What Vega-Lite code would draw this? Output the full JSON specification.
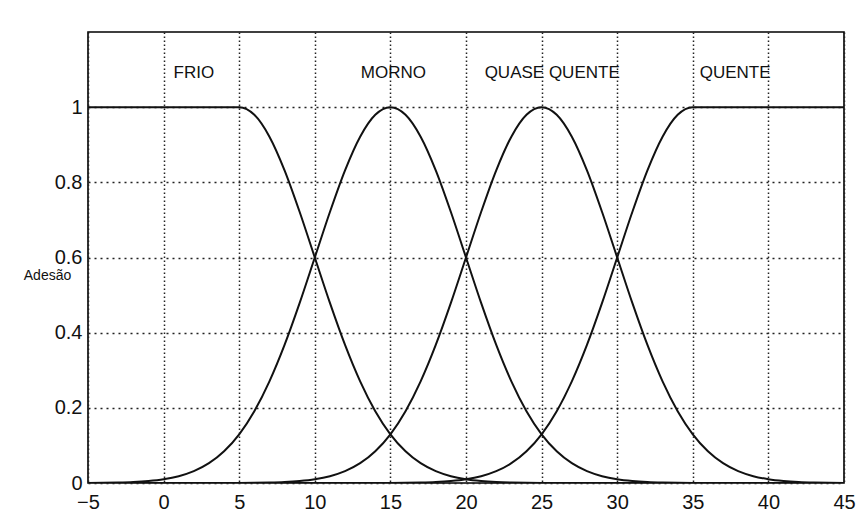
{
  "$schema": "https://vega.github.io/schema/vega-lite/v6.json",
  "width": 756,
  "height": 451,
  "autosize": {"type": "none"},
  "padding": {"left": 88, "top": 32, "right": 19, "bottom": 32},
  "background": "white",
  "config": {
    "view": {"stroke": "#000", "strokeWidth": 1.6},
    "font": "Liberation Sans",
    "axis": {
      "domain": false,
      "ticks": false,
      "labelFont": "Liberation Sans",
      "labelFontSize": 20,
      "labelColor": "#111",
      "labelFlush": false,
      "labelOverlap": false,
      "gridColor": "#222",
      "gridOpacity": 1,
      "gridWidth": 1.5
    }
  },
  "datasets": {
    "curves": [
      {"s": "FRIO", "x": -5, "y": 1}, {"s": "FRIO", "x": 0, "y": 1}, {"s": "FRIO", "x": 5, "y": 1},
      {"s": "FRIO", "x": 6, "y": 0.9798}, {"s": "FRIO", "x": 7, "y": 0.9215}, {"s": "FRIO", "x": 8, "y": 0.832},
      {"s": "FRIO", "x": 9, "y": 0.7211}, {"s": "FRIO", "x": 10, "y": 0.6}, {"s": "FRIO", "x": 11, "y": 0.4792},
      {"s": "FRIO", "x": 12, "y": 0.3674}, {"s": "FRIO", "x": 13, "y": 0.2705}, {"s": "FRIO", "x": 14, "y": 0.1911},
      {"s": "FRIO", "x": 15, "y": 0.1296}, {"s": "FRIO", "x": 16, "y": 0.0844}, {"s": "FRIO", "x": 17, "y": 0.0527},
      {"s": "FRIO", "x": 18, "y": 0.0316}, {"s": "FRIO", "x": 19, "y": 0.0182}, {"s": "FRIO", "x": 20, "y": 0.0101},
      {"s": "FRIO", "x": 21, "y": 0.0054}, {"s": "FRIO", "x": 22, "y": 0.0027}, {"s": "FRIO", "x": 23, "y": 0.0013},
      {"s": "FRIO", "x": 24, "y": 0.0006}, {"s": "FRIO", "x": 25, "y": 0.0003}, {"s": "FRIO", "x": 30, "y": 0},
      {"s": "FRIO", "x": 35, "y": 0}, {"s": "FRIO", "x": 40, "y": 0}, {"s": "FRIO", "x": 45, "y": 0},

      {"s": "MORNO", "x": -5, "y": 0.0003}, {"s": "MORNO", "x": -4, "y": 0.0006}, {"s": "MORNO", "x": -3, "y": 0.0013},
      {"s": "MORNO", "x": -2, "y": 0.0027}, {"s": "MORNO", "x": -1, "y": 0.0054}, {"s": "MORNO", "x": 0, "y": 0.0101},
      {"s": "MORNO", "x": 1, "y": 0.0182}, {"s": "MORNO", "x": 2, "y": 0.0316}, {"s": "MORNO", "x": 3, "y": 0.0527},
      {"s": "MORNO", "x": 4, "y": 0.0844}, {"s": "MORNO", "x": 5, "y": 0.1296}, {"s": "MORNO", "x": 6, "y": 0.1911},
      {"s": "MORNO", "x": 7, "y": 0.2705}, {"s": "MORNO", "x": 8, "y": 0.3674}, {"s": "MORNO", "x": 9, "y": 0.4792},
      {"s": "MORNO", "x": 10, "y": 0.6}, {"s": "MORNO", "x": 11, "y": 0.7211}, {"s": "MORNO", "x": 12, "y": 0.832},
      {"s": "MORNO", "x": 13, "y": 0.9215}, {"s": "MORNO", "x": 14, "y": 0.9798}, {"s": "MORNO", "x": 15, "y": 1},
      {"s": "MORNO", "x": 16, "y": 0.9798}, {"s": "MORNO", "x": 17, "y": 0.9215}, {"s": "MORNO", "x": 18, "y": 0.832},
      {"s": "MORNO", "x": 19, "y": 0.7211}, {"s": "MORNO", "x": 20, "y": 0.6}, {"s": "MORNO", "x": 21, "y": 0.4792},
      {"s": "MORNO", "x": 22, "y": 0.3674}, {"s": "MORNO", "x": 23, "y": 0.2705}, {"s": "MORNO", "x": 24, "y": 0.1911},
      {"s": "MORNO", "x": 25, "y": 0.1296}, {"s": "MORNO", "x": 26, "y": 0.0844}, {"s": "MORNO", "x": 27, "y": 0.0527},
      {"s": "MORNO", "x": 28, "y": 0.0316}, {"s": "MORNO", "x": 29, "y": 0.0182}, {"s": "MORNO", "x": 30, "y": 0.0101},
      {"s": "MORNO", "x": 31, "y": 0.0054}, {"s": "MORNO", "x": 32, "y": 0.0027}, {"s": "MORNO", "x": 33, "y": 0.0013},
      {"s": "MORNO", "x": 34, "y": 0.0006}, {"s": "MORNO", "x": 35, "y": 0.0003}, {"s": "MORNO", "x": 40, "y": 0},
      {"s": "MORNO", "x": 45, "y": 0},

      {"s": "QQ", "x": -5, "y": 0}, {"s": "QQ", "x": 0, "y": 0},
      {"s": "QQ", "x": 5, "y": 0.0003}, {"s": "QQ", "x": 6, "y": 0.0006}, {"s": "QQ", "x": 7, "y": 0.0013},
      {"s": "QQ", "x": 8, "y": 0.0027}, {"s": "QQ", "x": 9, "y": 0.0054}, {"s": "QQ", "x": 10, "y": 0.0101},
      {"s": "QQ", "x": 11, "y": 0.0182}, {"s": "QQ", "x": 12, "y": 0.0316}, {"s": "QQ", "x": 13, "y": 0.0527},
      {"s": "QQ", "x": 14, "y": 0.0844}, {"s": "QQ", "x": 15, "y": 0.1296}, {"s": "QQ", "x": 16, "y": 0.1911},
      {"s": "QQ", "x": 17, "y": 0.2705}, {"s": "QQ", "x": 18, "y": 0.3674}, {"s": "QQ", "x": 19, "y": 0.4792},
      {"s": "QQ", "x": 20, "y": 0.6}, {"s": "QQ", "x": 21, "y": 0.7211}, {"s": "QQ", "x": 22, "y": 0.832},
      {"s": "QQ", "x": 23, "y": 0.9215}, {"s": "QQ", "x": 24, "y": 0.9798}, {"s": "QQ", "x": 25, "y": 1},
      {"s": "QQ", "x": 26, "y": 0.9798}, {"s": "QQ", "x": 27, "y": 0.9215}, {"s": "QQ", "x": 28, "y": 0.832},
      {"s": "QQ", "x": 29, "y": 0.7211}, {"s": "QQ", "x": 30, "y": 0.6}, {"s": "QQ", "x": 31, "y": 0.4792},
      {"s": "QQ", "x": 32, "y": 0.3674}, {"s": "QQ", "x": 33, "y": 0.2705}, {"s": "QQ", "x": 34, "y": 0.1911},
      {"s": "QQ", "x": 35, "y": 0.1296}, {"s": "QQ", "x": 36, "y": 0.0844}, {"s": "QQ", "x": 37, "y": 0.0527},
      {"s": "QQ", "x": 38, "y": 0.0316}, {"s": "QQ", "x": 39, "y": 0.0182}, {"s": "QQ", "x": 40, "y": 0.0101},
      {"s": "QQ", "x": 41, "y": 0.0054}, {"s": "QQ", "x": 42, "y": 0.0027}, {"s": "QQ", "x": 43, "y": 0.0013},
      {"s": "QQ", "x": 44, "y": 0.0006}, {"s": "QQ", "x": 45, "y": 0.0003},

      {"s": "QUENTE", "x": -5, "y": 0}, {"s": "QUENTE", "x": 0, "y": 0}, {"s": "QUENTE", "x": 5, "y": 0},
      {"s": "QUENTE", "x": 10, "y": 0}, {"s": "QUENTE", "x": 15, "y": 0.0003}, {"s": "QUENTE", "x": 16, "y": 0.0006},
      {"s": "QUENTE", "x": 17, "y": 0.0013}, {"s": "QUENTE", "x": 18, "y": 0.0027}, {"s": "QUENTE", "x": 19, "y": 0.0054},
      {"s": "QUENTE", "x": 20, "y": 0.0101}, {"s": "QUENTE", "x": 21, "y": 0.0182}, {"s": "QUENTE", "x": 22, "y": 0.0316},
      {"s": "QUENTE", "x": 23, "y": 0.0527}, {"s": "QUENTE", "x": 24, "y": 0.0844}, {"s": "QUENTE", "x": 25, "y": 0.1296},
      {"s": "QUENTE", "x": 26, "y": 0.1911}, {"s": "QUENTE", "x": 27, "y": 0.2705}, {"s": "QUENTE", "x": 28, "y": 0.3674},
      {"s": "QUENTE", "x": 29, "y": 0.4792}, {"s": "QUENTE", "x": 30, "y": 0.6}, {"s": "QUENTE", "x": 31, "y": 0.7211},
      {"s": "QUENTE", "x": 32, "y": 0.832}, {"s": "QUENTE", "x": 33, "y": 0.9215}, {"s": "QUENTE", "x": 34, "y": 0.9798},
      {"s": "QUENTE", "x": 35, "y": 1}, {"s": "QUENTE", "x": 40, "y": 1}, {"s": "QUENTE", "x": 45, "y": 1}
    ],
    "labels": [
      {"label": "FRIO", "x": 2, "y": 1.09},
      {"label": "MORNO", "x": 15.2, "y": 1.09},
      {"label": "QUASE QUENTE", "x": 25.7, "y": 1.09},
      {"label": "QUENTE", "x": 37.8, "y": 1.09}
    ]
  },
  "layer": [
    {
      "data": {"name": "curves"},
      "mark": {"type": "line", "color": "#111", "strokeWidth": 2, "interpolate": "monotone", "clip": true},
      "encoding": {
        "x": {
          "field": "x", "type": "quantitative",
          "scale": {"domain": [-5, 45], "nice": false, "zero": false},
          "axis": {
            "title": null,
            "values": [-5, 0, 5, 10, 15, 20, 25, 30, 35, 40, 45],
            "labelPadding": 9,
            "gridDash": [1.5, 2.5]
          }
        },
        "y": {
          "field": "y", "type": "quantitative",
          "scale": {"domain": [0, 1.2], "nice": false},
          "axis": {
            "title": "Adesão",
            "titleAngle": 0,
            "titleFont": "Liberation Sans",
            "titleFontSize": 14,
            "titleFontWeight": "normal",
            "titleColor": "#111",
            "titleAlign": "center",
            "titleBaseline": "middle",
            "titleX": -41,
            "titleY": 243,
            "values": [0, 0.2, 0.4, 0.6, 0.8, 1],
            "format": "~g",
            "labelPadding": 6,
            "gridDash": [2, 4]
          }
        },
        "detail": {"field": "s", "type": "nominal"}
      }
    },
    {
      "data": {"name": "labels"},
      "mark": {"type": "text", "font": "Liberation Sans", "fontSize": 17, "color": "#111", "align": "center", "baseline": "middle"},
      "encoding": {
        "x": {"field": "x", "type": "quantitative"},
        "y": {"field": "y", "type": "quantitative"},
        "text": {"field": "label", "type": "nominal"}
      }
    }
  ]
}
